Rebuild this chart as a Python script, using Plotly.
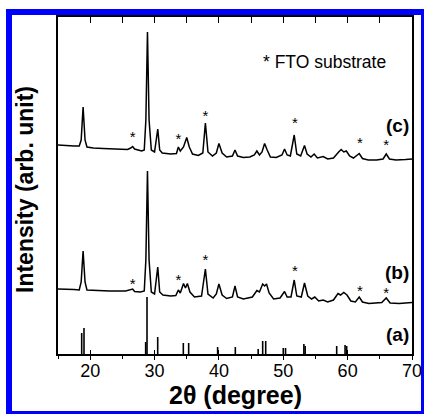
import plotly.graph_objects as go

# ---- data (2theta in degrees, intensity in arbitrary units, traces include vertical offsets) ----
c_two_theta = [15.0, 16.5, 17.5, 18.3, 18.6, 18.9, 19.2, 19.5, 20.5, 22.0, 24.0, 25.8, 26.3, 26.6, 26.9,
               27.5, 28.0, 28.4, 28.65, 28.9, 29.15, 29.5, 30.0, 30.5, 30.8, 31.2, 32.5, 33.4, 33.7, 34.0,
               34.5, 35.0, 35.4, 35.9, 36.8, 37.5, 37.9, 38.3, 39.0, 39.6, 40.0, 40.5, 41.2, 42.1, 42.5,
               42.9, 43.8, 44.8, 45.5, 45.9, 46.3, 46.7, 47.1, 47.5, 48.0, 48.9, 49.8, 50.2, 50.6, 51.1,
               51.7, 52.1, 52.7, 53.3, 53.7, 54.3, 54.8, 55.3, 56.2, 56.9, 57.8, 58.6, 59.0, 59.4, 59.8,
               60.3, 60.9, 61.8, 62.3, 63.2, 64.5, 65.5, 66.0, 66.5, 67.5, 69.0, 70.0]
c_intensity = [209, 208, 208, 208, 214, 247, 214, 207, 206, 205.5, 205, 204.5, 206, 207.5, 205,
               204, 203, 204, 234, 322, 234, 204, 202, 225, 204, 201, 200, 200.5, 207, 203,
               207, 216.5, 207, 200, 198.5, 201, 231, 202, 198, 201, 210.5, 201, 197, 198, 204,
               198, 196.5, 197, 199, 203, 199, 202, 210.5, 204, 197, 196.5, 199, 205, 199, 198,
               219, 200, 198, 208.5, 200, 197, 200, 196, 197.5, 195, 196, 202, 204.5, 202, 203,
               198, 196, 200.5, 195.5, 194, 194, 195, 200, 195, 194, 194.5, 195]

b_two_theta = [15.0, 16.5, 17.5, 18.3, 18.6, 18.9, 19.2, 19.5, 21.0, 23.0, 25.5, 26.3, 26.6, 26.9, 27.8,
               28.4, 28.65, 28.9, 29.15, 29.5, 30.0, 30.5, 30.8, 31.3, 32.5, 33.3, 33.7, 34.0, 34.5, 34.8,
               35.1, 35.5, 36.2, 37.3, 37.9, 38.3, 39.1, 39.6, 40.0, 40.5, 41.2, 42.1, 42.5, 42.9, 43.8,
               45.2, 45.9, 46.3, 46.8, 47.1, 47.4, 47.8, 48.5, 49.5, 50.2, 50.6, 51.2, 51.7, 52.1, 52.8,
               53.3, 53.8, 54.4, 54.9, 55.5, 56.2, 56.9, 57.8, 58.5, 58.9, 59.4, 59.9, 60.5, 61.2, 61.8,
               62.3, 63.3, 65.3, 66.0, 66.6, 68.0, 70.0]
b_intensity = [65, 65, 64.5, 64, 72, 103, 72, 64, 63.5, 63, 63, 64, 65, 62.5, 62,
               63, 94, 183, 94, 62, 60, 87, 62, 59, 58, 58.5, 64, 61, 70.5, 66,
               70.5, 62, 57, 58, 85, 60, 56, 60, 70, 59, 55.5, 57, 68, 57, 55,
               57, 63.5, 62, 70, 68, 70, 61, 55, 56, 62.5, 57, 57, 74, 58, 57,
               71, 58, 55, 57, 53, 54, 52, 54, 60.5, 59, 61.5, 59, 53, 52, 57,
               52, 50.5, 51.5, 56, 51, 50.5, 51.5]

a_two_theta = [18.68, 19.04, 28.62, 28.83, 30.49, 34.47, 35.3, 39.8, 42.55, 46.1, 46.8, 47.27,
               50.0, 50.35, 53.2, 53.4, 58.3, 59.6, 59.85]
a_intensity = [21, 26, 12, 57, 17, 11, 11, 7, 7, 5, 13, 13, 6, 6, 10, 8, 8, 9, 8]

star_two_theta = [26.6, 33.7, 37.9, 51.8, 61.9, 66.0]
star_c = [216, 214, 237, 230, 210, 208]
star_b = [69, 73, 93, 82, 62, 60]

x_ticks = [20, 30, 40, 50, 60, 70]
curve_labels = ["(c)", "(b)", "(a)"]

# ---- layout geometry (pixels) ----
W, H = 424, 414
L, R, T, B = 58, 412, 17, 354
pw, ph = R - L, B - T

def px(xp):
    return (xp - L) / pw

def py(yp):
    return (B - yp) / ph

FONT = "Liberation Sans, Arial"
fig = go.Figure()

line_style = dict(color="black", width=1.5)
fig.add_trace(go.Scatter(x=c_two_theta, y=c_intensity, mode="lines", line=line_style,
                         showlegend=False, hoverinfo="skip"))
fig.add_trace(go.Scatter(x=b_two_theta, y=b_intensity, mode="lines", line=line_style,
                         showlegend=False, hoverinfo="skip"))

stick_x, stick_y = [], []
for xv, yv in zip(a_two_theta, a_intensity):
    stick_x += [xv, xv, None]
    stick_y += [0, yv, None]
fig.add_trace(go.Scatter(x=stick_x, y=stick_y, mode="lines", line=dict(color="black", width=1.6),
                         showlegend=False, hoverinfo="skip"))

# FTO substrate stars
for ys in (star_c, star_b):
    fig.add_trace(go.Scatter(x=star_two_theta, y=ys, mode="text", text=["*"] * len(ys),
                             textfont=dict(family=FONT, size=15, color="black"),
                             textposition="middle center", showlegend=False, hoverinfo="skip"))

# dummy traces for extra tick axes
fig.add_trace(go.Scatter(x=[None], y=[None], xaxis="x2", showlegend=False, hoverinfo="skip"))
fig.add_trace(go.Scatter(x=[None], y=[None], xaxis="x3", showlegend=False, hoverinfo="skip"))

fig.update_layout(
    width=W, height=H,
    margin=dict(l=L, r=W - R, t=T, b=H - B, autoexpand=False),
    paper_bgcolor="white", plot_bgcolor="white",
    font=dict(family=FONT, color="black"),
    xaxis=dict(range=[15, 70], tickvals=x_ticks, ticks="outside", ticklen=4, tickwidth=1.4,
               tickcolor="black", showline=True, linecolor="black", linewidth=1.6, mirror=True,
               showgrid=False, zeroline=False, tickfont=dict(size=18, color="black"),
               automargin=False, ticklabelstandoff=-4,
               minor=dict(dtick=5, tick0=15, ticks="outside", ticklen=3, tickwidth=1.4, tickcolor="black")),
    xaxis2=dict(range=[15, 70], overlaying="x", side="top", dtick=5, tick0=15, ticks="inside",
                ticklen=6, tickwidth=1.4, tickcolor="black", showticklabels=False,
                showline=False, showgrid=False, zeroline=False, automargin=False),
    xaxis3=dict(range=[15, 70], overlaying="x", side="bottom", tickvals=x_ticks, ticks="inside",
                ticklen=4, tickwidth=1.4, tickcolor="black", showticklabels=False,
                showline=False, showgrid=False, zeroline=False, automargin=False),
    yaxis=dict(range=[0, ph], showticklabels=False, ticks="", showline=True, linecolor="black",
               linewidth=1.6, mirror=True, showgrid=False, zeroline=False, automargin=False),
)

annos = [
    dict(text="<b>2θ (degree)</b>", x=px(235), y=py(395), font=dict(size=25)),
    dict(text="<b>Intensity (arb. unit)</b>", x=px(25), y=py(190), font=dict(size=23), textangle=-90),
    dict(text="* FTO substrate", x=px(324.5), y=py(62), font=dict(size=17.5)),
    dict(text="<b>" + curve_labels[0] + "</b>", x=px(397), y=py(126), font=dict(size=19)),
    dict(text="<b>" + curve_labels[1] + "</b>", x=px(397), y=py(272), font=dict(size=19)),
    dict(text="<b>" + curve_labels[2] + "</b>", x=px(397), y=py(334), font=dict(size=19)),
]
for a in annos:
    a.update(xref="paper", yref="paper", showarrow=False, xanchor="center", yanchor="middle")
    a["font"].update(color="black", family=FONT)
    fig.add_annotation(**a)

# blue frame around the figure
fig.add_shape(type="rect", xref="paper", yref="paper",
              x0=px(9), x1=px(424), y0=py(414), y1=py(12),
              line=dict(color="#0000FF", width=6), fillcolor="rgba(0,0,0,0)", layer="above")

fig.write_html("out.html")
